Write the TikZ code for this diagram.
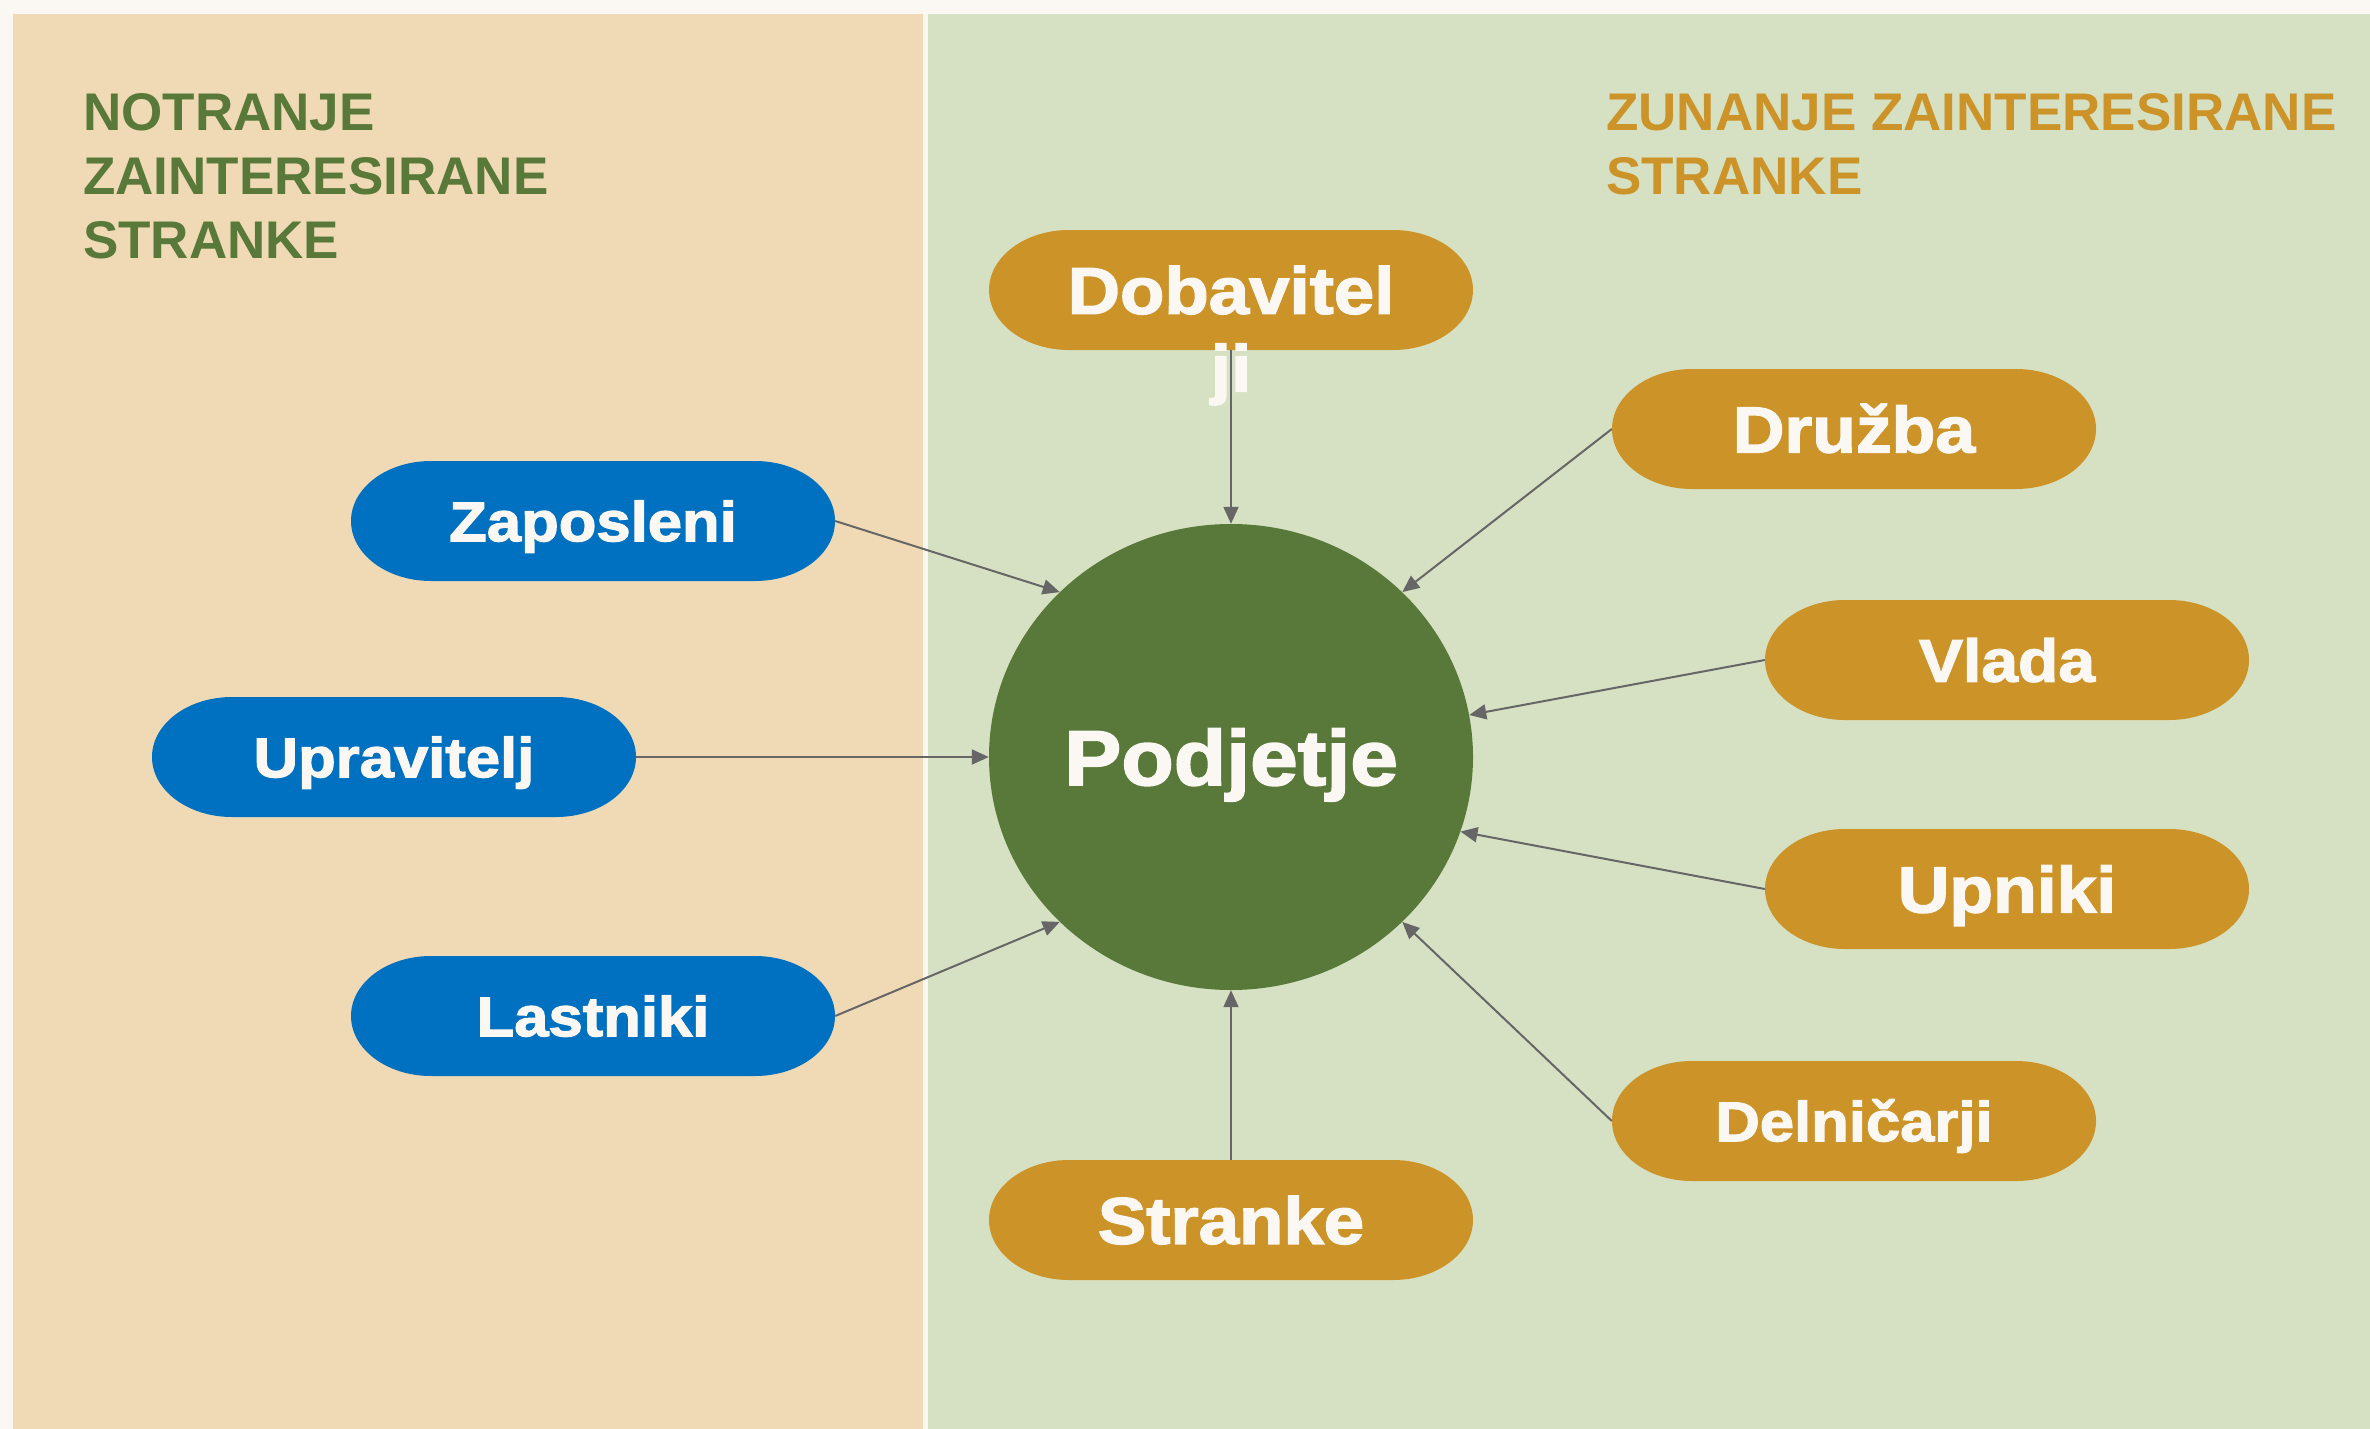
\documentclass[tikz,border=0pt]{standalone}
\usepackage{fontspec}
\setmainfont{Liberation Sans}
\newfontfamily\pillfont{Liberation Sans}[BoldFeatures={FakeBold=2.2,FakeStretch=1.1}]
\usepackage{xcolor}
\usepackage{tikz}
\usetikzlibrary{positioning,arrows.meta,shapes}
\definecolor{pagebg}{HTML}{FBF7F3}
\definecolor{innerbg}{HTML}{F0DAB5}
\definecolor{outerbg}{HTML}{D6E1C3}
\definecolor{firmgreen}{HTML}{58793A}
\definecolor{innerblue}{HTML}{0070C0}
\definecolor{outerorange}{HTML}{CC9329}
\definecolor{labelwhite}{HTML}{FBF7F3}
\definecolor{linkgrey}{HTML}{666666}
\newcommand\capbox[1]{\raisebox{0pt}[0.72em][0pt]{#1}}

\begin{document}
\begin{tikzpicture}
		[x=1pt,y=-1pt,
		pill/.style={minimum width=484pt,minimum height=120pt,inner sep=0pt,text=labelwhite,
			path picture={\fill[#1] ([xshift=80pt]path picture bounding box.north west)
				-- ([xshift=-80pt]path picture bounding box.north east)
				arc[start angle=90,end angle=-90,x radius=80pt,y radius=60pt]
				-- ([xshift=80pt]path picture bounding box.south west)
				arc[start angle=270,end angle=90,x radius=80pt,y radius=60pt] -- cycle;}},
		inner/.style={pill=innerblue},
		outer/.style={pill=outerorange},
		sz/.style={font=\pillfont\bfseries\fontsize{#1}{#1}\selectfont},
		title/.style={anchor=base west,inner sep=0pt,align=left,font=\bfseries\fontsize{53}{64}\selectfont},
		link/.style={draw=linkgrey,line width=2pt,-{Triangle[length=17pt,width=15pt]}}]
		\useasboundingbox (0,0) rectangle (2370,1429);
		\fill[pagebg] (0,0) rectangle (2370,1429);
		\fill[innerbg] (13,14) rectangle (923,1429);
		\fill[outerbg] (928,14) rectangle (2370,1429);
		\node[title,text=firmgreen] (innertitle) at (83,258) {NOTRANJE\\ZAINTERESIRANE\\STRANKE};
		\node[title,text=outerorange] (outertitle) at (1606,194) {ZUNANJE ZAINTERESIRANE\\STRANKE};
		\node[ellipse,fill=firmgreen,minimum width=484pt,minimum height=466pt,inner sep=0pt,text=labelwhite,sz=78] (pod) at (1231,757) {\capbox{Podjetje}};
		\node[inner,sz=56] (zap) at (593,521) {\capbox{Zaposleni}};
		\node[inner,sz=56] (upr) at (394,757) {\capbox{Upravitelj}};
		\node[inner,sz=56] (las) at (593,1016) {\capbox{Lastniki}};
		\node[outer,sz=66] (dob) at (1231,290) {\capbox{\begin{tabular}[t]{@{}c@{}}Dobavitel\\[10pt]ji\end{tabular}}};
		\node[outer,sz=65] (dru) at (1854,429) {\capbox{Družba}};
		\node[outer,sz=60] (vla) at (2007,660) {\capbox{Vlada}};
		\node[outer,sz=65] (upn) at (2007,889) {\capbox{Upniki}};
		\node[outer,sz=56] (del) at (1854,1121) {\capbox{Delničarji}};
		\node[outer,sz=66] (str) at (1231,1220) {\capbox{Stranke}};
		\draw[link] (zap.east) -- (pod.north west);
		\draw[link] (upr.east) -- (pod.west);
		\draw[link] (las.east) -- (pod.south west);
		\draw[link] (dob.south) -- (pod.north);
		\draw[link] (dru.west) -- (pod.north east);
		\draw[link] (vla.west) -- (pod.10);
		\draw[link] (upn.west) -- (pod.-18);
		\draw[link] (del.west) -- (pod.south east);
		\draw[link] (str.north) -- (pod.south);
\end{tikzpicture}
\end{document}
